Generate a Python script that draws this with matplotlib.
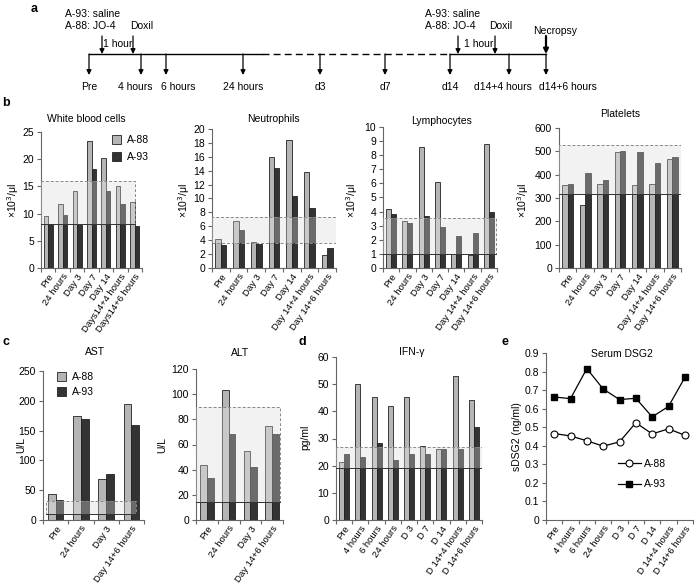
import numpy as np
import matplotlib
matplotlib.use('Agg')
import matplotlib.pyplot as plt
from matplotlib.patches import Rectangle
from matplotlib.lines import Line2D

plt.rcParams['font.family'] = ['Liberation Sans', 'DejaVu Sans']
plt.rcParams['font.size'] = 7

W, H = 700, 585

# ---- data ----
cbc_days = ['Pre', '24 hours', 'Day 3', 'Day 7', 'Day 14', 'Day 14+4 hours', 'Day 14+6 hours']
wbc_days = ['Pre', '24 hours', 'Day 3', 'Day 7', 'Day 14', 'Days14+4 hours', 'Days14+6 hours']
wbc_a88 = [9.6, 11.7, 14.2, 23.4, 20.3, 15.0, 12.2]
wbc_a93 = [8.0, 9.7, 7.9, 18.2, 14.2, 11.8, 7.8]
neu_a88 = [4.2, 6.8, 3.7, 15.9, 18.4, 13.8, 1.8]
neu_a93 = [3.3, 5.5, 3.4, 14.4, 10.4, 8.6, 2.9]
lym_a88 = [4.2, 3.3, 8.6, 6.1, 1.0, 0.9, 8.8]
lym_a93 = [3.8, 3.2, 3.7, 2.9, 2.3, 2.5, 4.0]
plt_a88 = [355, 272, 358, 497, 355, 360, 465]
plt_a93 = [362, 405, 378, 503, 497, 448, 475]

liver_days = ['Pre', '24 hours', 'Day 3', 'Day 14+6 hours']
ast_a88 = [43, 175, 68, 194]
ast_a93 = [33, 170, 77, 160]
alt_a88 = [44, 103, 55, 75]
alt_a93 = [33, 68, 42, 68]

ifn_days = ['Pre', '4 hours', '6 hours', '24 hours', 'D 3', 'D 7', 'D 14',
            'D 14+4 hours', 'D 14+6 hours']
ifn_a88 = [21.2, 50.0, 45.2, 42.1, 45.2, 27.1, 26.0, 53.1, 44.0]
ifn_a93 = [24.2, 23.2, 28.2, 22.0, 24.2, 24.2, 26.0, 26.0, 34.2]
dsg2_a88 = [0.466, 0.453, 0.427, 0.398, 0.421, 0.524, 0.464, 0.491, 0.457]
dsg2_a93 = [0.663, 0.654, 0.816, 0.706, 0.649, 0.656, 0.556, 0.612, 0.768]

# normal ranges (low, high)
wbc_range = (8.1, 16.0)
neu_range = (3.6, 7.3)
lym_range = (1.0, 3.55)
plt_range = (318, 527)
ast_range = (10, 32)
alt_range = (14.5, 90)
ifn_range = (19.0, 26.7)

# timeline (panel a)
tl_x = [89, 141, 166, 243, 320, 385, 450, 509, 546]
tl_lab = ['Pre', '4 hours', '6 hours', '24 hours', 'd3', 'd7', 'd14', 'd14+4 hours', 'd14+6 hours']
tl_lab_x = [89, 135, 178, 243, 320, 385, 450, 503, 568]

C88 = '#b5b5b5'
C93 = '#333333'
AXC = '#666666'

fig = plt.figure(figsize=(7, 5.85), dpi=100)


def px_axes(x0, y0, x1, y1):
    return fig.add_axes([x0 / W, 1 - y1 / H, (x1 - x0) / W, (y1 - y0) / H])


def ftext(x, y, s, **kw):
    fig.text(x / W, 1 - y / H, s, **kw)


def style(ax, n):
    for s in ['top', 'right']:
        ax.spines[s].set_visible(False)
    for s in ['left', 'bottom']:
        ax.spines[s].set_color(AXC)
        ax.spines[s].set_linewidth(0.8)
    ax.set_xlim(-0.5, n - 0.5)
    ax.set_xticks(np.arange(n + 1) - 0.5)
    ax.set_xticklabels([])
    ax.tick_params(axis='both', which='major', direction='out', length=3,
                   width=0.8, color=AXC, labelsize=7.5, pad=2)


def bar_panel(ax, labels, a88, a93, ymax, ystep, rng, box_x=None, solid_low=True):
    n = len(labels)
    x = np.arange(n)
    w = 0.31
    lo, hi = rng
    bx0, bx1 = box_x if box_x else (-0.5, n - 0.5)
    ax.add_patch(Rectangle((bx0, lo), bx1 - bx0, hi - lo, fc='#eeeeee', ec='none', zorder=0))
    ax.bar(x - w / 2, a88, w, color=C88, edgecolor='#222222', lw=0.6, zorder=2, label='A-88')
    ax.bar(x + w / 2, a93, w, color=C93, edgecolor='#222222', lw=0.6, zorder=2, label='A-93')
    ax.add_patch(Rectangle((bx0, lo), bx1 - bx0, hi - lo, fc='white', alpha=0.28, ec='none', zorder=3))
    ax.add_patch(Rectangle((bx0, lo), bx1 - bx0, hi - lo, fill=False, ec='#888888',
                           ls=(0, (3, 2)), lw=0.7, zorder=4))
    if solid_low:
        ax.plot([bx0, bx1], [lo, lo], color='#333333', lw=0.7, zorder=4)
    style(ax, n)
    ax.set_ylim(0, ymax)
    ax.set_yticks(np.arange(0, ymax + ystep / 2, ystep))
    ax.set_xticks(x, minor=True)
    ax.set_xticklabels(labels, minor=True, rotation=55, ha='right',
                       rotation_mode='anchor', fontsize=6.8)
    ax.tick_params(axis='x', which='minor', length=0, pad=3)


# ---- panel a: timeline ----
axa = fig.add_axes([0, 1 - 95 / H, 1, 95 / H])
axa.set_xlim(0, W)
axa.set_ylim(95, 0)
axa.axis('off')
ty = 54
axa.plot([tl_x[0], 262], [ty, ty], color='k', lw=1.0)
axa.plot([262, tl_x[6]], [ty, ty], color='k', lw=1.0, ls=(0, (5, 3)))
axa.plot([tl_x[6], tl_x[-1]], [ty, ty], color='k', lw=1.0)
for xx, lab, lx in zip(tl_x, tl_lab, tl_lab_x):
    axa.annotate('', xy=(xx, 75), xytext=(xx, ty),
                 arrowprops=dict(arrowstyle='-|>', color='k', lw=0.9, mutation_scale=7,
                                 shrinkA=0, shrinkB=0))
    axa.text(lx, 87, lab, ha='center', va='center', fontsize=7.5)
for xx, lw in [(102, 0.9), (133, 0.9), (458, 0.9), (495, 0.9), (546, 1.6)]:
    axa.annotate('', xy=(xx, ty), xytext=(xx, 36),
                 arrowprops=dict(arrowstyle='-|>', color='k', lw=lw, mutation_scale=7,
                                 shrinkA=0, shrinkB=0))
for x0 in [65, 425]:
    axa.text(x0, 14, 'A-93: saline', ha='left', va='center', fontsize=7.5)
    axa.text(x0, 26, 'A-88: JO-4', ha='left', va='center', fontsize=7.5)
axa.text(130, 26, 'Doxil', ha='left', va='center', fontsize=7.5)
axa.text(489, 26, 'Doxil', ha='left', va='center', fontsize=7.5)
axa.text(533, 31, 'Necropsy', ha='left', va='center', fontsize=7.5)
axa.text(103, 44, '1 hour', ha='left', va='center', fontsize=7.5)
axa.text(464, 44, '1 hour', ha='left', va='center', fontsize=7.5)

# ---- panel b ----
ax_wbc = px_axes(41, 132, 142, 268)
bar_panel(ax_wbc, wbc_days, wbc_a88, wbc_a93, 25, 5, wbc_range, box_x=(-0.5, 6.0))
ax_wbc.legend(loc='upper left', bbox_to_anchor=(112 / W, 1 - 135 / H),
              bbox_transform=fig.transFigure, frameon=False, fontsize=7.5,
              handlelength=0.9, handleheight=0.9, handletextpad=0.5, labelspacing=0.7,
              borderpad=0, borderaxespad=0)

ax_neu = px_axes(212, 129, 336, 268)
bar_panel(ax_neu, cbc_days, neu_a88, neu_a93, 20, 2, neu_range, solid_low=False)

ax_lym = px_axes(383, 127, 497, 268)
bar_panel(ax_lym, cbc_days, lym_a88, lym_a93, 10, 1, lym_range, box_x=(-0.5, 6.45))

ax_plt = px_axes(559, 128, 681, 268)
bar_panel(ax_plt, cbc_days, plt_a88, plt_a93, 600, 100, plt_range)

ftext(86, 119, 'White blood cells', ha='center', va='center', fontsize=7.5)
ftext(273, 119, 'Neutrophils', ha='center', va='center', fontsize=7.5)
ftext(442, 121, 'Lymphocytes', ha='center', va='center', fontsize=7.5)
ftext(620, 114, 'Platelets', ha='center', va='center', fontsize=7.5)
for xx in [13, 184, 352, 523]:
    ftext(xx, 200, '×10$^3$/μl', ha='center', va='center', rotation=90, fontsize=7.5)

# ---- panel c ----
ax_ast = px_axes(43, 371, 144, 520)
bar_panel(ax_ast, liver_days, ast_a88, ast_a93, 250, 50, ast_range, box_x=(-0.37, 3.18))
ax_ast.legend(loc='upper left', bbox_to_anchor=(57 / W, 1 - 372 / H),
              bbox_transform=fig.transFigure, frameon=False, fontsize=7.5,
              handlelength=0.9, handleheight=0.9, handletextpad=0.5, labelspacing=0.5,
              borderpad=0, borderaxespad=0)

ax_alt = px_axes(196, 369, 283, 520)
bar_panel(ax_alt, liver_days, alt_a88, alt_a93, 120, 20, alt_range, box_x=(-0.5, 3.38))

ftext(95, 352, 'AST', ha='center', va='center', fontsize=7.5)
ftext(240, 353, 'ALT', ha='center', va='center', fontsize=7.5)
ftext(21, 445, 'U/L', ha='center', va='center', rotation=90, fontsize=7.5)
ftext(162, 445, 'U/L', ha='center', va='center', rotation=90, fontsize=7.5)

# ---- panel d ----
ax_ifn = px_axes(336, 357, 482, 520)
bar_panel(ax_ifn, ifn_days, ifn_a88, ifn_a93, 60, 10, ifn_range)
ftext(412, 352, 'IFN-γ', ha='center', va='center', fontsize=7.5)
ftext(305, 437, 'pg/ml', ha='center', va='center', rotation=90, fontsize=7.5)

# ---- panel e ----
ax_e = px_axes(546, 353, 693, 520)
n = len(ifn_days)
xe = np.arange(n)
ax_e.plot(xe, dsg2_a88, color='k', lw=0.9, marker='o', ms=5, mfc='white', mec='k',
          mew=0.8, label='A-88', zorder=3)
ax_e.plot(xe, dsg2_a93, color='k', lw=0.9, marker='s', ms=5, mfc='k', mec='k',
          label='A-93', zorder=3)
style(ax_e, n)
ax_e.set_ylim(0, 0.9)
ax_e.set_yticks(np.arange(0, 0.95, 0.1))
ax_e.set_yticklabels(['0'] + ['%.1f' % v for v in np.arange(0.1, 0.95, 0.1)])
ax_e.set_xticks(xe, minor=True)
ax_e.set_xticklabels(ifn_days, minor=True, rotation=55, ha='right',
                     rotation_mode='anchor', fontsize=6.8)
ax_e.tick_params(axis='x', which='minor', length=0, pad=3)
ax_e.legend(loc='upper left', bbox_to_anchor=(618 / W, 1 - 459 / H),
            bbox_transform=fig.transFigure, frameon=False, fontsize=7.5,
            handlelength=2.2, handletextpad=0.3, labelspacing=1.0,
            borderpad=0, borderaxespad=0)
ftext(622, 354, 'Serum DSG2', ha='center', va='center', fontsize=7.5)
ftext(517, 437, 'sDSG2 (ng/ml)', ha='center', va='center', rotation=90, fontsize=7.5)

# panel letters
for lx, ly, s in [(34, 9, 'a'), (6, 103, 'b'), (6, 342, 'c'), (302, 342, 'd'), (505, 342, 'e')]:
    ftext(lx, ly, s, ha='center', va='center', fontsize=9, fontweight='bold')

fig.savefig('out.png', dpi=100)
